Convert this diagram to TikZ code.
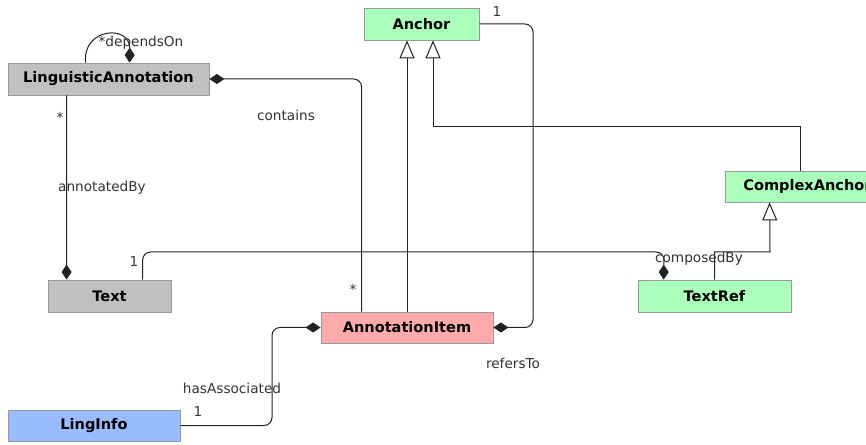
\documentclass[tikz,border=0pt]{standalone}
\usepackage{fontspec}
\setmainfont{DejaVu Sans}
\usetikzlibrary{arrows.meta}
\definecolor{boxgray}{HTML}{C0C0C0}
\definecolor{boxgreen}{HTML}{AAFFBB}
\definecolor{boxpink}{HTML}{FFAAAA}
\definecolor{boxblue}{HTML}{99BBFF}
\definecolor{edgegray}{HTML}{999999}
\definecolor{linecol}{HTML}{222222}
\tikzset{
  cls/.style={rectangle, draw=edgegray, line width=0.8bp, minimum height=32bp, inner sep=0pt,
    font=\fontsize{14.6}{16}\selectfont\bfseries, text=black},
  conn/.style={draw=linecol, line width=1bp},
  comp/.style={conn, -{Diamond[length=15bp,width=10bp]}},
  gen/.style={conn, -{Triangle[open,length=18bp,width=15bp,fill=white]}},
  lbl/.style={font=\fontsize{13.7}{15}\selectfont, text=black!80, inner sep=0pt},
}
\begin{document}
\begin{tikzpicture}[x=1bp,y=-1bp]
\clip (0,0) rectangle (866,445);
\fill[white] (0,0) rectangle (866,445);
% classes
\node[cls, fill=boxgray, minimum width=201bp] (LA) at (108.5,79) {LinguisticAnnotation};
\node[cls, fill=boxgreen, minimum width=115bp] (Anchor) at (421.5,24) {Anchor};
\node[cls, fill=boxgreen, minimum width=165bp, minimum height=31bp] (CA) at (807.5,186.5) {ComplexAnchor};
\node[cls, fill=boxgreen, minimum width=153bp] (TR) at (714.5,296) {TextRef};
\node[cls, fill=boxgray, minimum width=123bp] (Text) at (109.5,296) {Text};
\node[cls, fill=boxpink, minimum width=172bp, minimum height=31bp] (AI) at (407,327.5) {AnnotationItem};
\node[cls, fill=boxblue, minimum width=172bp, minimum height=31bp] (LI) at (94,425.5) {LingInfo};
% helper coordinates
\coordinate (aitop) at ([xshift=41bp]AI.north west);
\coordinate (c1) at (aitop |- LA.east);
\coordinate (g2) at (433,127);
\coordinate (r1) at (533,327.5);
\coordinate (t1) at (664,252);
\coordinate (cx) at (770,252);
\coordinate (h1) at (272,425.5);
% dependsOn self loop
\draw[comp] ([xshift=78bp]LA.north west) .. controls (82,28) and (130,24) .. ([xshift=122bp]LA.north west);
% contains
\draw[comp, rounded corners=8bp] (aitop) -- (c1) -- (LA.east);
% annotatedBy
\draw[comp] ([xshift=59bp]LA.south west) -- ([xshift=19bp]Text.north west);
% generalizations to Anchor
\draw[gen] (AI.north) -- (AI.north |- Anchor.south);
\draw[gen] ([xshift=76bp]CA.north west) |- (g2) -- (g2 |- Anchor.south);
% refersTo
\draw[comp, rounded corners=8bp] (Anchor.east) -| (r1) -- (AI.east);
% composedBy
\draw[comp, rounded corners=8bp] ([xshift=95bp]Text.north west) |- (t1) -- ([xshift=26bp]TR.north west);
% TextRef -> ComplexAnchor
\draw[gen] ([xshift=77bp]TR.north west) |- (cx) -- ([xshift=45bp]CA.south west);
% hasAssociated
\draw[comp, rounded corners=8bp] (LI.east) -- (h1) |- (AI.west);
% labels
\node[lbl] (l1) at (141,43) {*dependsOn};
\node[lbl] (l2) at (60,117) {*};
\node[lbl] (l3) at (286,115) {contains};
\node[lbl] (l4) at (102,188) {annotatedBy};
\node[lbl] (l5) at (134,262) {1};
\node[lbl] (l6) at (353,289) {*};
\node[lbl] (l7) at (497,12) {1};
\node[lbl] (l8) at (699,259) {composedBy};
\node[lbl] (l9) at (513,363) {refersTo};
\node[lbl] (l10) at (232,388) {hasAssociated};
\node[lbl] (l11) at (198,412) {1};
\end{tikzpicture}
\end{document}
